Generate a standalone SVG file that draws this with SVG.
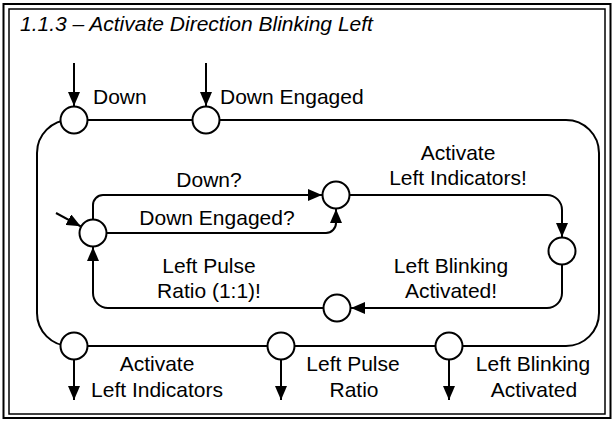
<svg xmlns="http://www.w3.org/2000/svg" width="614" height="423" viewBox="0 0 614 423">
<style>
.frame{fill:none;stroke:#000}
.st{fill:#fff;stroke:#000;stroke-width:2}
.ln{fill:none;stroke:#000;stroke-width:2}
.arr{marker-end:url(#ah)}
text{font-family:"Liberation Sans",Arial,sans-serif;font-size:21px;fill:#000}
.c{text-anchor:middle}
.title{font-style:italic}
</style>
<defs>
<marker id="ah" viewBox="0 0 14 12" refX="14" refY="6" markerWidth="14" markerHeight="12" markerUnits="userSpaceOnUse" orient="auto">
<path d="M0,0 L14,6 L0,12 Z" fill="#000"/>
</marker>
</defs>
<rect width="614" height="423" fill="#fff"/>
<rect class="frame" x="3.5" y="4" width="607" height="414" stroke-width="2"/>
<rect class="frame" x="9" y="9" width="596" height="405" stroke-width="1.5"/>
<text class="title" x="20" y="31">1.1.3 – Activate Direction Blinking Left</text>

<g id="connectors">
<rect class="ln" x="37" y="120" width="562" height="226" rx="33" ry="33"/>
<path class="ln arr" d="M74,63 V106"/>
<path class="ln arr" d="M206,63 V106"/>
<path class="ln arr" d="M74,359.5 V400"/>
<path class="ln arr" d="M281,359.5 V400"/>
<path class="ln arr" d="M449,359.5 V400"/>
<path class="ln arr" d="M56,213 L80.7,226.3"/>
<path class="ln arr" d="M93,219.5 V205 A10,10 0 0 1 103,195 H322"/>
<path class="ln arr" d="M106.5,233 H326 A10,10 0 0 0 336,223 V209"/>
<path class="ln arr" d="M349.5,195 H547 A15,15 0 0 1 562,210 V237"/>
<path class="ln arr" d="M562,264.5 V293 A15,15 0 0 1 547,308 H351"/>
<path class="ln arr" d="M323.5,308 H108 A15,15 0 0 1 93,293 V247"/>
</g>

<g id="n_down"><circle class="st" cx="74" cy="120" r="13.5"/></g>
<g id="n_down_engaged"><circle class="st" cx="206" cy="120" r="13.5"/></g>
<g id="n_out_activate"><circle class="st" cx="74" cy="346" r="13.5"/></g>
<g id="n_out_pulse"><circle class="st" cx="281" cy="346" r="13.5"/></g>
<g id="n_out_blinking"><circle class="st" cx="449" cy="346" r="13.5"/></g>
<g id="s_init"><circle class="st" cx="93" cy="233" r="13.5"/></g>
<g id="s_activate"><circle class="st" cx="336" cy="195" r="13.5"/></g>
<g id="s_blinking"><circle class="st" cx="562" cy="251" r="13.5"/></g>
<g id="s_pulse"><circle class="st" cx="337" cy="308" r="13.5"/></g>

<g id="labels">
<text x="93" y="104">Down</text>
<text x="220" y="104">Down Engaged</text>
<text class="c" x="209" y="187">Down?</text>
<text class="c" x="217" y="225">Down Engaged?</text>
<text class="c" x="458" y="160">Activate</text>
<text class="c" x="458" y="185">Left Indicators!</text>
<text class="c" x="451" y="273">Left Blinking</text>
<text class="c" x="451" y="298">Activated!</text>
<text class="c" x="209" y="273">Left Pulse</text>
<text class="c" x="209" y="298">Ratio (1:1)!</text>
<text class="c" x="157" y="371">Activate</text>
<text class="c" x="157" y="397">Left Indicators</text>
<text class="c" x="353" y="371">Left Pulse</text>
<text class="c" x="354" y="397">Ratio</text>
<text class="c" x="533" y="371">Left Blinking</text>
<text class="c" x="534" y="397">Activated</text>
</g>
</svg>
